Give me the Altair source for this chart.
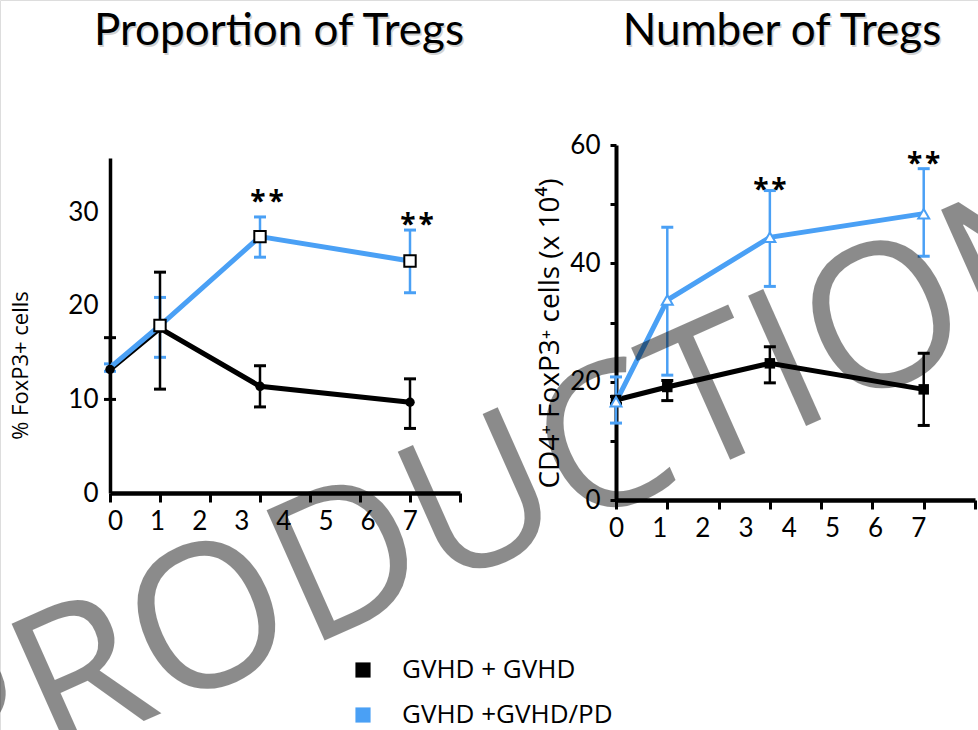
import altair as alt
import pandas as pd

groups = ["GVHD + GVHD", "GVHD +GVHD/PD"]
line_colors = ["#000000", "#4aa0f5"]
positions = [0, 1, 3, 6]
tick_days = [0, 1, 2, 3, 4, 5, 6, 7]
panel_titles = ["Proportion of Tregs", "Number of Tregs"]
watermark_text = ["PRODUCTION"]

# % FoxP3+ cells (mean, lower, upper)
pct_gvhd = [13.2, 17.6, 11.4, 9.7]
pct_gvhd_lo = [10.0, 11.1, 9.2, 6.9]
pct_gvhd_hi = [16.6, 23.6, 13.6, 12.2]
pct_pd = [13.4, 17.9, 27.4, 24.8]
pct_pd_lo = [13.0, 14.5, 25.2, 21.4]
pct_pd_hi = [13.8, 20.9, 29.5, 28.1]

# CD4+ FoxP3+ cells, x 10^4 (mean, lower, upper)
num_gvhd = [16.9, 19.1, 23.1, 18.7]
num_gvhd_lo = [16.3, 16.8, 19.8, 12.6]
num_gvhd_hi = [17.5, 20.2, 25.9, 24.8]
num_pd = [16.6, 33.8, 44.4, 48.4]
num_pd_lo = [13.0, 21.1, 36.1, 41.2]
num_pd_hi = [20.8, 46.1, 52.3, 56.0]

# significance marks
pct_star_pos = [3, 6]
pct_star_y = [32.0, 29.5]
num_star_pos = [3, 6]
num_star_y = [53.8, 58.1]
star_text = "*\u200a*"


def frame(means, los, his):
    rows = []
    for g, m, lo, hi in zip(groups, means, los, his):
        for p, a, b, c in zip(positions, m, lo, hi):
            rows.append({"pos": p, "group": g, "mean": a, "lo": b, "hi": c})
    return pd.DataFrame(rows)


pct_df = frame([pct_gvhd, pct_pd], [pct_gvhd_lo, pct_pd_lo], [pct_gvhd_hi, pct_pd_hi])
num_df = frame([num_gvhd, num_pd], [num_gvhd_lo, num_pd_lo], [num_gvhd_hi, num_pd_hi])

LABEL_FONT = "Lato"
TEXT_FONT = "Open Sans"

color_scale = alt.Scale(domain=groups, range=line_colors)
legend = alt.Legend(
    title=None, orient="none", legendX=350, legendY=657, padding=0,
    symbolType="square", symbolSize=230, symbolStrokeWidth=0, symbolOpacity=1,
    labelFont=TEXT_FONT, labelFontSize=26, labelColor="black", labelLimit=0,
    labelOffset=26, rowPadding=19,
)


def build_panel(df, xscale, yscale, xaxis, yaxis, markers, star_pos, star_y,
                star_dx, with_legend, marker_filters):
    base = alt.Chart(df)
    x = alt.X("pos:Q", scale=xscale, axis=xaxis)
    y_mean = alt.Y("mean:Q", scale=yscale, axis=yaxis)
    layers = []
    # error bars, blue first so black sits above
    for g, col in zip(reversed(groups), reversed(line_colors)):
        sub = base.transform_filter(alt.datum.group == g)
        layers.append(sub.mark_rule(color=col, strokeWidth=2.5).encode(
            x=x, y=alt.Y("lo:Q", scale=yscale, axis=yaxis), y2="hi:Q"))
        for f in ["lo", "hi"]:
            layers.append(sub.mark_tick(color=col, orient="horizontal", size=12,
                                        thickness=3, opacity=1).encode(
                x=x, y=alt.Y(f"{f}:Q", scale=yscale, axis=yaxis)))
    # connecting lines
    for g, col in zip(groups, line_colors):
        sub = base.transform_filter(alt.datum.group == g)
        layers.append(sub.mark_line(strokeWidth=5, color=col).encode(x=x, y=y_mean))
    # markers
    for g, spec, flt in zip(groups, markers, marker_filters):
        sub = base.transform_filter(alt.datum.group == g).transform_filter(flt)
        layers.append(sub.mark_point(opacity=1, **spec).encode(x=x, y=y_mean))
    if with_legend:
        # zero-size squares that carry the filled-square legend
        layers.append(base.mark_square(size=0, opacity=1).encode(
            x=x, y=y_mean,
            color=alt.Color("group:N", scale=color_scale, legend=legend)))
    stars = pd.DataFrame({"pos": star_pos, "y": star_y, "t": [star_text] * len(star_pos)})
    layers.append(alt.Chart(stars).mark_text(
        font=TEXT_FONT, fontSize=28, fontWeight="bold", color="black",
        baseline="alphabetic", dx=star_dx, dy=17).encode(
        x=alt.X("pos:Q", scale=xscale, axis=xaxis),
        y=alt.Y("y:Q", scale=yscale, axis=yaxis), text="t:N"))
    return alt.layer(*layers)


def x_axis(offset, label_shift):
    return alt.Axis(
        orient="bottom", offset=offset, values=tick_days, title=None, grid=False,
        domainColor="black", domainWidth=4.5, tickColor="black", tickWidth=3,
        tickSize=9, labelFont=LABEL_FONT, labelFontSize=26, labelColor="black",
        labelPadding=6, labelFlush=False, labelOffset={"expr": label_shift},
    )


left_panel = build_panel(
    pct_df,
    alt.Scale(domain=[0, 7], range=[110, 460], nice=False),
    alt.Scale(domain=[0, 35.8], range=[493, 158], nice=False, zero=True),
    x_axis(493 - 730, "5 - 7.9 * datum.value"),
    alt.Axis(
        orient="left", offset=-110, values=[0, 10, 20, 30], grid=False,
        domainColor="black", domainWidth=3.5, ticks=False,
        labelFont=LABEL_FONT, labelFontSize=26, labelColor="black", labelPadding=12,
        title="% FoxP3+ cells", titleFont=TEXT_FONT, titleFontSize=22,
        titleFontWeight="normal", titleColor="black", titleAngle=270,
        titleX=-90, titleY=365, titleAlign="center", titleBaseline="middle",
    ),
    [
        {"shape": "circle", "filled": True, "color": "black", "size": 90},
        {"shape": "square", "filled": True, "fill": "white", "stroke": "black",
         "strokeWidth": 2, "size": 130},
    ],
    pct_star_pos, pct_star_y, 7, True,
    ["true", "datum.pos > 0"],
)

right_panel = build_panel(
    num_df,
    alt.Scale(domain=[0, 7], range=[616, 975], nice=False),
    alt.Scale(domain=[0, 60], range=[500, 145], nice=False, zero=True),
    x_axis(500 - 730, "-8.1 * datum.value"),
    alt.Axis(
        orient="left", offset=-616, values=[0, 10, 20, 30, 40, 50, 60], grid=False,
        domainColor="black", domainWidth=4, tickColor="black", tickWidth=3, tickSize=6,
        labelExpr="datum.value % 20 == 0 ? datum.label : ''",
        labelFont=LABEL_FONT, labelFontSize=26, labelColor="black", labelPadding=10,
        title="CD4\u207a FoxP3\u207a cells (x 10\u2074)", titleFont=TEXT_FONT,
        titleFontSize=28, titleFontWeight="normal", titleColor="black",
        titleAngle=270, titleX=-66, titleY=333, titleAlign="center",
        titleBaseline="middle", titleLimit=0,
    ),
    [
        {"shape": "square", "filled": True, "color": "black", "size": 110},
        {"shape": "triangle-up", "filled": True, "fill": "white",
         "stroke": line_colors[1], "strokeWidth": 2, "size": 120},
    ],
    num_star_pos, num_star_y, 0, False,
    ["true", "true"],
)

# panel headings with a soft drop shadow
title_layers = []
for t, cx in zip(panel_titles, [279, 782]):
    tdf = pd.DataFrame({"t": [t]})
    title_layers.append(alt.Chart(tdf).mark_text(
        font=LABEL_FONT, fontSize=44, color="#d2d2d2", align="center",
        baseline="alphabetic").encode(text="t:N", x=alt.value(cx + 1.5), y=alt.value(46.5)))
    title_layers.append(alt.Chart(tdf).mark_text(
        font=LABEL_FONT, fontSize=44, color="black", align="center",
        baseline="alphabetic").encode(text="t:N", x=alt.value(cx), y=alt.value(45)))

watermark = alt.Chart(pd.DataFrame({"t": watermark_text})).mark_text(
    font=TEXT_FONT, fontSize=200, color="black", opacity=0.45, angle=336,
    align="center", baseline="middle",
).encode(text="t:N", x=alt.value(506), y=alt.value(494))

chart = alt.layer(left_panel, right_panel, *title_layers, watermark).resolve_scale(
    x="independent", y="independent"
).properties(
    width=978, height=730, padding=0, autosize=alt.AutoSizeParams(type="none"),
).configure_view(stroke=None).configure(background="white")

chart.save("out.html", embed_options={"renderer": "svg", "actions": False})
